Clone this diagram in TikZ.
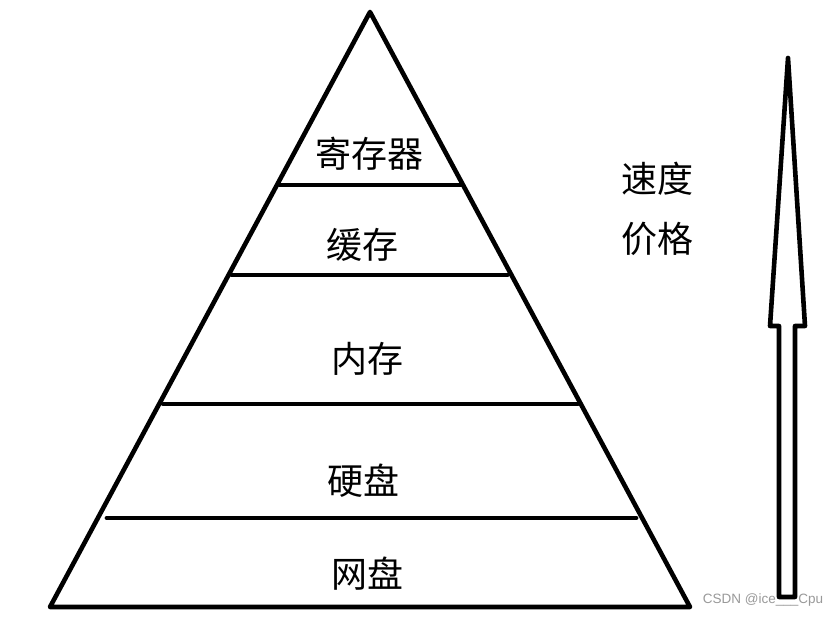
\documentclass[tikz,border=0pt]{standalone}
\usepackage{fontspec}
\newfontfamily\cjk{Noto Sans CJK SC}
\newfontfamily\wmfont{Liberation Sans}
\usetikzlibrary{calc}
\begin{document}
\begin{tikzpicture}[x=1pt,y=-1pt,
  edge/.style={line width=4.6pt,line join=round,line cap=round},
  layer/.style={line width=4.6pt,line cap=round},
  lbl/.style={inner sep=0pt,font=\cjk\fontsize{36}{42}\selectfont},
  wm/.style={inner sep=0pt,text=black!40,font=\wmfont\fontsize{13.5}{15}\selectfont}]
\useasboundingbox (0,0) rectangle (840,617);
\fill[white] (0,0) rectangle (840,617);
% pyramid
\coordinate (A) at (370,12);
\coordinate (L) at (50,607);
\coordinate (R) at (690,607);
\draw[edge] (L) -- (A) -- (R) -- cycle;
% layer lines
\coordinate (l1) at ($(A)!0.2908!(L)+(3,0)$);
\coordinate (r1) at ($(A)!0.2908!(R)+(-2,0)$);
\coordinate (l2) at ($(A)!0.4420!(L)+(3,0)$);
\coordinate (r2) at ($(A)!0.4420!(R)+(-4,0)$);
\coordinate (l3) at ($(A)!0.6588!(L)+(4,0)$);
\coordinate (r3) at ($(A)!0.6588!(R)+(-3,0)$);
\coordinate (l4) at ($(A)!0.8504!(L)+(9,0)$);
\coordinate (r4) at ($(A)!0.8504!(R)+(-6,0)$);
\draw[layer] (l1) -- (r1);
\draw[layer] (l2) -- (r2);
\draw[layer] (l3) -- (r3);
\draw[layer] (l4) -- (r4);
% labels
\node[lbl] (reg) at (369,154) {寄存器};
\node[lbl] (cache) at (362,245) {缓存};
\node[lbl] (mem) at (367,359) {内存};
\node[lbl] (disk) at (363,481) {硬盘};
\node[lbl] (net) at (367,574) {网盘};
\node[lbl] (speed) at (657,179) {速度};
\node[lbl] (price) at (657,239) {价格};
% arrow
\coordinate (t) at (788,58);
\coordinate (hl) at (770,326);
\coordinate (sl) at (779,326);
\coordinate (bl) at (779,597);
\coordinate (br) at (795,597);
\coordinate (sr) at (795,326);
\coordinate (hr) at (805,326);
\draw[edge] (t) -- (hl) -- (sl) -- (bl) -- (br) -- (sr) -- (hr) -- cycle;
% watermark
\node[wm] (mark) at (763,600) {CSDN @ice\_\_\_Cpu};
\end{tikzpicture}
\end{document}
